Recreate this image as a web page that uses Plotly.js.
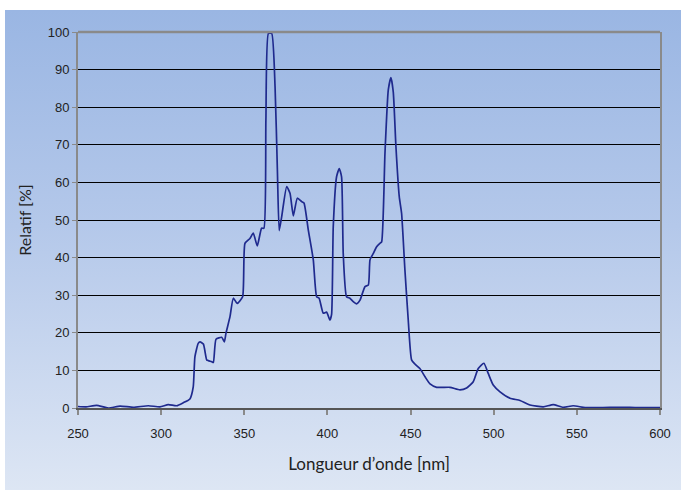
<!DOCTYPE html>
<html>
<head>
<meta charset="utf-8">
<script src="https://cdn.plot.ly/plotly-3.0.1.min.js"></script>
<style>
  html, body { margin:0; padding:0; background:#ffffff; }
  #wrap { position:relative; width:681px; height:493px; background:#ffffff; }
  #bg { position:absolute; left:5px; top:10px; width:676px; height:480px;
        background: linear-gradient(to bottom, #9ab6e3 0%, #b4c8ea 45%, #dde6f4 100%); }
  #chart { position:absolute; left:0; top:0; width:681px; height:493px; }
</style>
</head>
<body>
<div id="wrap">
  <div id="bg"></div>
  <div id="chart"></div>
</div>
<script>
// Wavelength (nm)
const wavelength = [250,254.8,261.2,268.2,275.3,283.3,292.3,299.3,304.3,309.3,313.3,317.3,319.3,320.3,322.3,323.4,325.4,327.4,328.4,330.4,331.4,333,336.4,338,339,341.4,343.4,345.8,349,350.4,353.4,355.4,357.8,360.4,361.8,363,364.5,366.5,368.5,369.9,371,372.5,375.5,377.5,379.5,381.9,384.5,385.9,388.5,391.5,393.5,395,397.5,399.5,401.5,402.5,403.5,405.5,407.1,408.5,409.5,411.5,413.5,415.5,417.5,419.6,422.6,424.6,425.6,427.6,429.6,431.6,432.6,434.6,436.6,438.2,439.6,441.2,443.2,444.6,446.6,448.6,450.6,452.6,455.6,458.7,461.7,465.7,473.7,479.7,483.7,487.7,490.7,494.1,496.7,499.7,503.8,509.8,515.8,521.8,529.8,535.8,541.8,547.8,555,565,577.7,585,600];
// Relative intensity (%)
const relatif = [0.4,0.3,0.7,0.0,0.5,0.2,0.6,0.3,0.9,0.6,1.4,2.4,5.6,13.6,17.2,17.6,17.0,12.8,12.6,12.3,12.1,18.3,18.8,17.6,19.9,24.3,29.2,27.8,29.6,43.8,45.1,46.5,43.1,47.8,47.8,76.6,99.6,99.6,85.5,63.3,47.2,50.9,58.9,57.1,51.1,55.8,54.9,54.5,47.3,39.4,29.6,29.2,25.2,25.5,23.4,24.9,48.2,61.5,63.7,61.5,41.1,29.6,29.2,28.3,27.7,28.7,32.3,32.7,39.4,41.1,42.9,43.8,44.2,67.7,84.6,87.9,84.0,69.5,56.2,51.8,36.7,23.4,12.8,11.7,10.5,8.3,6.4,5.5,5.5,4.8,5.3,7.0,10.5,11.9,9.2,6.1,4.3,2.6,2.0,0.8,0.3,0.9,0.2,0.6,0.1,0.1,0.2,0.1,0.1];

const xTickVals = [250,300,350,400,450,500,550,600];
const yTickVals = [0,10,20,30,40,50,60,70,80,90,100];

const trace = {
  x: wavelength, y: relatif, type: 'scatter', mode: 'lines',
  line: { color: '#1f2a8e', width: 1.7, shape: 'spline', smoothing: 0.5 },
  hoverinfo: 'skip'
};

const layout = {
  width: 681, height: 493,
  margin: { l: 78, r: 21, t: 32, b: 85 },
  paper_bgcolor: 'rgba(0,0,0,0)',
  plot_bgcolor: 'rgba(0,0,0,0)',
  showlegend: false,
  font: { family: '"Liberation Sans Narrow", "Liberation Sans", Arial, sans-serif', size: 12, color: '#222' },
  xaxis: {
    range: [250, 600], tickvals: xTickVals, ticktext: xTickVals.map(String),
    showgrid: false, zeroline: false,
    showline: true, linecolor: '#555555', linewidth: 1.5,
    ticks: 'outside', ticklen: 5, tickcolor: '#8a8a8a', tickwidth: 2,
    ticklabelstandoff: 8,
    tickfont: { size: 13, color: '#222' },
    title: { text: 'Longueur d\u2019onde [nm]', font: { family: 'Lato, "Open Sans", sans-serif', size: 17, color: '#222' }, standoff: 18 }
  },
  yaxis: {
    range: [0, 100], tickvals: yTickVals, ticktext: yTickVals.map(String),
    showgrid: true, gridcolor: '#000000', gridwidth: 1,
    zeroline: false,
    showline: true, mirror: true, linecolor: '#8a8a8a', linewidth: 2,
    ticks: 'outside', ticklen: 4, tickcolor: '#8a8a8a', tickwidth: 1,
    tickfont: { size: 13, color: '#222' },
    title: { text: 'Relatif [%]', font: { family: 'Lato, "Open Sans", sans-serif', size: 16, color: '#222' }, standoff: 12 }
  },
  shapes: [
    { type: 'line', xref: 'paper', yref: 'paper', x0: 0, x1: 1, y0: 1, y1: 1,
      line: { color: '#8a8a8a', width: 2.5 } }
  ]
};

Plotly.newPlot('chart', [trace], layout, { displayModeBar: false, staticPlot: true });
</script>
</body>
</html>
